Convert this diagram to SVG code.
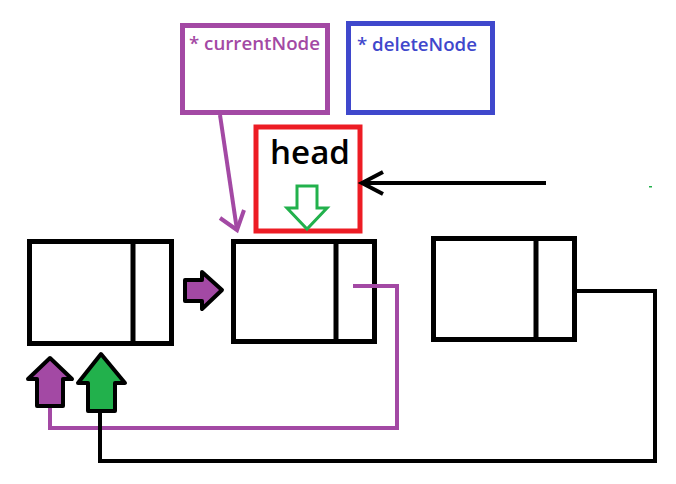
<svg xmlns="http://www.w3.org/2000/svg" width="676" height="484" viewBox="0 0 676 484">
<style>
.box{fill:none;stroke-width:5}
.node{fill:#fff;stroke:#000;stroke-width:5}
.div{stroke:#000;stroke-width:5}
.lbl{font-family:"Open Sans","Noto Sans",sans-serif;font-weight:600}
.link{fill:none;stroke-width:4;stroke-linejoin:miter}
</style>
<rect width="676" height="484" fill="#fff"/>
<g id="currentNode">
  <rect class="box" stroke="#a349a4" x="182.5" y="25.5" width="145" height="87"/>
  <text class="lbl" x="189" y="50" font-size="18" textLength="131" lengthAdjust="spacingAndGlyphs" fill="#a349a4">* currentNode</text>
</g>
<g id="deleteNode">
  <rect class="box" stroke="#3f48cc" x="348.5" y="23.5" width="144" height="89"/>
  <text class="lbl" x="357" y="51" font-size="18" textLength="120" lengthAdjust="spacingAndGlyphs" fill="#3f48cc">* deleteNode</text>
</g>
<g id="head">
  <rect class="box" stroke="#ed1c24" stroke-width="4" x="256" y="127" width="104" height="104"/>
  <text class="lbl" x="270" y="164" font-size="33" textLength="80" lengthAdjust="spacingAndGlyphs" fill="#000">head</text>
  <polygon points="297,186 317,186 317,208 327,208 307,229 287,208 297,208" fill="#fff" stroke="#22b14c" stroke-width="3"/>
</g>
<g id="node1">
  <rect class="node" x="29.5" y="241.5" width="142" height="102"/>
  <line class="div" x1="133" y1="241.5" x2="133" y2="343.5"/>
</g>
<g id="node2">
  <rect class="node" x="233.5" y="241.5" width="141" height="100"/>
  <line class="div" x1="336" y1="241.5" x2="336" y2="341.5"/>
</g>
<g id="node3">
  <rect class="node" x="433.5" y="238.5" width="141" height="101"/>
  <line class="div" x1="536" y1="238.5" x2="536" y2="339.5"/>
</g>
<g id="connectors">
  <polyline class="link" stroke="#a349a4" points="220,115 237,230"/>
  <polyline class="link" stroke="#a349a4" points="220,218 237,230 244,210"/>
  <polyline class="link" stroke="#000" points="546,183 362,183"/>
  <polyline class="link" stroke="#000" points="383,172 362,183 383,194"/>
  <polyline class="link" stroke="#a349a4" points="353,286 397,286 397,428 50,428 50,405"/>
  <polyline class="link" stroke="#000" points="577,291 655,291 655,461 100,461 100,410"/>
</g>
<g id="nextArrow">
  <polygon points="185,280 202,280 202,272 222,290 202,309 202,301 185,301" fill="#a349a4" stroke="#000" stroke-width="4" stroke-linejoin="round"/>
</g>
<g id="purpleUp">
  <polygon points="50,358 72,379 63,379 63,406 37,406 37,379 28,379" fill="#a349a4" stroke="#000" stroke-width="4" stroke-linejoin="round"/>
</g>
<g id="greenUp">
  <polygon points="101,354 125,383 115,383 115,411 88,411 88,383 78,383" fill="#22b14c" stroke="#000" stroke-width="4" stroke-linejoin="round"/>
</g>
<rect x="649" y="186" width="3" height="1.5" fill="#22b14c"/>
</svg>
